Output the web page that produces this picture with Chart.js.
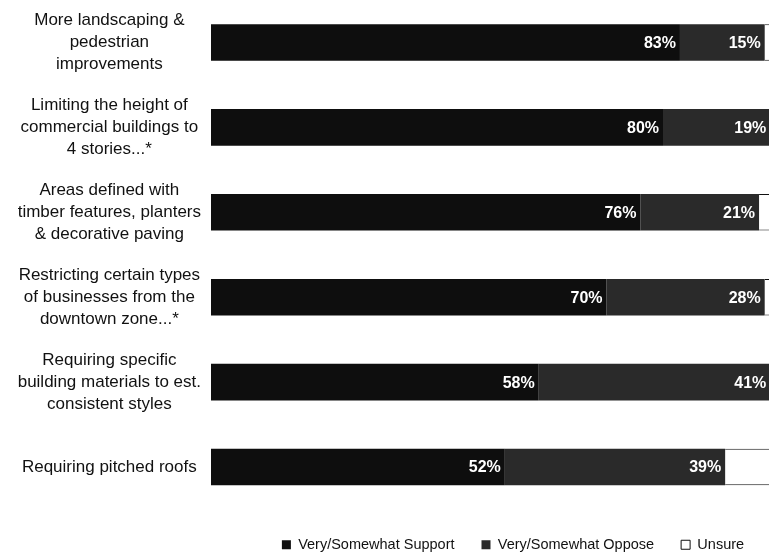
<!DOCTYPE html>
<html>
<head>
<meta charset="utf-8">
<script src="https://cdn.jsdelivr.net/npm/chart.js@4/dist/chart.umd.min.js"></script>
<style>
  body { margin: 0; background: #fff; }
  #wrap { width: 769px; height: 556px; overflow: hidden; }
</style>
</head>
<body>
<div id="wrap"><canvas id="chart" width="776" height="556"></canvas></div>
<script>
// categories (multi-line labels as in the original)
var categories = [
  ["More landscaping &", "pedestrian", "improvements"],
  ["Limiting the height of", "commercial buildings to", "4 stories...*"],
  ["Areas defined with", "timber features, planters", "& decorative paving"],
  ["Restricting certain types", "of businesses from the", "downtown zone...*"],
  ["Requiring specific", "building materials to est.", "consistent styles"],
  ["Requiring pitched roofs"]
];
var support = [83, 80, 76, 70, 58, 52];
var oppose = [15, 19, 21, 28, 41, 39];
var unsure = [2, 1, 3, 2, 1, 9];

// percent labels at the end of each dark segment
var barLabels = {
  id: "barLabels",
  afterDatasetsDraw: function (chart) {
    var ctx = chart.ctx;
    ctx.save();
    ctx.font = "bold 16px 'Liberation Sans', Arial, sans-serif";
    ctx.fillStyle = "#fff";
    ctx.textAlign = "right";
    ctx.textBaseline = "middle";
    [0, 1].forEach(function (d) {
      var meta = chart.getDatasetMeta(d);
      meta.data.forEach(function (bar, i) {
        var v = chart.data.datasets[d].data[i];
        ctx.fillText(v + "%", bar.x - 4, bar.y + 1);
      });
    });
    ctx.restore();
  }
};

// nudge the legend to where it sits in the original
var moveLegend = {
  id: "moveLegend",
  afterLayout: function (chart) {
    var lg = chart.legend;
    lg.left += 125; lg.right += 125;
    lg.top += 1; lg.bottom += 1;
  }
};

var ctx = document.getElementById("chart").getContext("2d");
var myChart = new Chart(ctx, {
  type: "bar",
  data: {
    labels: categories,
    datasets: [
      {
        label: "Very/Somewhat Support",
        data: support,
        backgroundColor: "#0e0e0e",
        borderWidth: 0,
      },
      {
        label: "Very/Somewhat Oppose",
        data: oppose,
        backgroundColor: "#2a2a2a",
        borderWidth: 0,
      },
      {
        label: "Unsure",
        data: unsure,
        backgroundColor: "#ffffff",
        borderColor: "#111",
        borderWidth: 1,
      },
    ],
  },
  options: {
    indexAxis: "y",
    responsive: false,
    animation: false,
    barPercentage: 0.43,
    categoryPercentage: 1,
    layout: { padding: { top: 0, right: 0, bottom: -5, left: 0 } },
    scales: {
      x: {
        stacked: true,
        display: false,
        min: 0,
        max: 100,
      },
      y: {
        stacked: true,
        grid: { display: false, drawTicks: false },
        border: { display: false },
        afterFit: function (s) {
          s.width = 211;
          s.paddingTop = 0;
          s.paddingBottom = 0;
        },
        ticks: {
          crossAlign: "center",
          padding: 10,
          color: "#111",
          font: { family: "'Liberation Sans', Arial, sans-serif", size: 17, lineHeight: 1.3 },
        },
      },
    },
    plugins: {
      tooltip: { enabled: false },
      legend: {
        position: "bottom",
        labels: {
          boxWidth: 9,
          boxHeight: 9,
          padding: 27,
          color: "#111",
          font: { family: "'Liberation Sans', Arial, sans-serif", size: 14.5 },
        },
      },
    },
  },
  plugins: [barLabels, moveLegend],
});
</script>
</body>
</html>
